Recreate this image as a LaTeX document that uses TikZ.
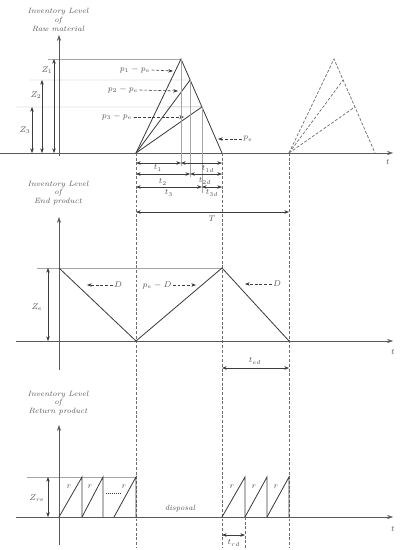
\documentclass[tikz,border=0pt]{standalone}
\usepackage{amsmath}
\usepackage{tikz}
\usetikzlibrary{arrows.meta, calc}
\definecolor{curveColor}{RGB}{60, 60, 60}
\definecolor{guideColor}{RGB}{165, 165, 165}
\definecolor{labelColor}{RGB}{85, 85, 85}
\tikzset{
    inv_axis/.style={
        -{Stealth[length=5pt, width=3.5pt]},
        draw=curveColor!85,
        line width=0.5pt
    },
    guide_line/.style={
        draw=guideColor,
        line width=0.35pt
    },
    stock_curve/.style={
        draw=curveColor,
        line width=0.7pt
    },
    cycle_mark/.style={
        draw=curveColor!75,
        dash pattern=on 2.5pt off 1.5pt,
        line width=0.5pt
    },
    dim_arrow/.style={
        {Stealth[length=4pt, width=3pt]}-{Stealth[length=4pt, width=3pt]},
        draw=curveColor,
        line width=0.45pt
    },
    rate_arrow/.style={
        -{Stealth[length=4pt, width=3pt]},
        draw=curveColor,
        dash pattern=on 2.5pt off 1.5pt,
        line width=0.5pt
    },
    axis_title/.style={
        align=center,
        text=labelColor,
        font=\fontsize{6.5}{7.6}\selectfont\itshape
    },
    math_label/.style={
        text=labelColor,
        font=\scriptsize,
        inner sep=1pt
    }
}

\begin{document}
\begin{tikzpicture}[x=0.03cm, y=-0.03cm]
    \useasboundingbox (0,0) rectangle (400,550);

    % ---- raw material ----
    \coordinate (rawYb) at (59,156);
    \coordinate (rawYt) at (59,35);
    \coordinate (rawXl) at (0,153);
    \coordinate (rawXr) at (393,153);
    \coordinate (bot) at (0,548);

    \coordinate (c1) at (136,153);
    \coordinate (p1) at (181,59);
    \coordinate (e1) at (222,153);
    \coordinate (p2) at ($(p1)!0.223!(e1)$);
    \coordinate (p3) at ($(p1)!0.51!(e1)$);
    \coordinate (c2) at (289,153);
    \coordinate (q1) at (334,59);
    \coordinate (f1) at (375,153);
    \coordinate (q2) at ($(q1)!0.223!(f1)$);
    \coordinate (q3) at ($(q1)!0.51!(f1)$);

    \coordinate (z1) at (48,59);
    \coordinate (z2) at (30,80);
    \coordinate (z3) at (16,107);
    \draw[guide_line] (z1) -- (p1);
    \draw[guide_line] (z2) -- (p2);
    \draw[guide_line] (z3) -- (p3);

    \draw[inv_axis] (rawYb) -- (rawYt);
    \draw[inv_axis] (rawXl) -- (rawXr);
    \node[axis_title] (rawTitle) at (58,20) {Inventory Level\\of\\Raw material};
    \node[math_label] (rawT) at (388,162) {$t$};

    % level arrows
    \coordinate (za) at (54,59);
    \coordinate (zb) at (42,80);
    \coordinate (zc) at (32,107);
    \draw[dim_arrow] (za) -- (za |- rawXl);
    \draw[dim_arrow] (zb) -- (zb |- rawXl);
    \draw[dim_arrow] (zc) -- (zc |- rawXl);
    \node[math_label] (lz1) at (47,70) {$Z_1$};
    \node[math_label] (lz2) at (36,95) {$Z_2$};
    \node[math_label] (lz3) at (25,130) {$Z_3$};

    % first cycle
    \draw[stock_curve] (c1) -- (p1) -- (e1);
    \draw[stock_curve] (c1) -- (p2);
    \draw[stock_curve] (c1) -- (p3);
    % next cycle
    \draw[cycle_mark, line width=0.6pt] (c2) -- (q1) -- (f1);
    \draw[cycle_mark, line width=0.6pt] (c2) -- (q2);
    \draw[cycle_mark, line width=0.6pt] (c2) -- (q3);

    % production rates
    \node[math_label] (lr1) at (135,70) {$p_1-p_e$};
    \node[math_label] (lr2) at (123,90) {$p_2-p_e$};
    \node[math_label] (lr3) at (117,117) {$p_3-p_e$};
    \node[math_label] (lre) at (248,139) {$p_e$};
    \coordinate (a1) at (173,71);
    \coordinate (a2) at (178,91);
    \coordinate (a3) at (184,117);
    \coordinate (a4) at (218,139);
    \draw[rate_arrow] (lr1.east) -- (a1);
    \draw[rate_arrow] (lr2.east) -- (a2);
    \draw[rate_arrow] (lr3.east) -- (a3);
    \draw[rate_arrow] (lre.west) -- (a4);

    % time spans
    \coordinate (r1) at (0,163);
    \coordinate (r2) at (0,174);
    \coordinate (r3) at (0,187);
    \coordinate (rT) at (0,212);
    \draw[guide_line] (p1) -- ($(p1 |- r1)+(0,3)$);
    \draw[guide_line] (p2) -- ($(p2 |- r2)+(0,3)$);
    \draw[guide_line] (p3) -- ($(p3 |- r3)+(0,6)$);
    \draw[dim_arrow] (c1 |- r1) -- (p1 |- r1);
    \draw[dim_arrow] (p1 |- r1) -- (e1 |- r1);
    \draw[dim_arrow] (c1 |- r2) -- (p2 |- r2);
    \draw[dim_arrow] (p2 |- r2) -- (e1 |- r2);
    \draw[dim_arrow] (c1 |- r3) -- (p3 |- r3);
    \draw[dim_arrow] (p3 |- r3) -- (e1 |- r3);
    \draw[dim_arrow] (c1 |- rT) -- (c2 |- rT);
    \node[math_label] (lt1) at (158,168) {$t_1$};
    \node[math_label] (lt1d) at (208,169) {$t_{1d}$};
    \node[math_label] (lt2) at (163,182) {$t_2$};
    \node[math_label] (lt2d) at (205,181) {$t_{2d}$};
    \node[math_label] (lt3) at (169,193) {$t_3$};
    \node[math_label] (lt3d) at (212,193) {$t_{3d}$};
    \node[math_label] (lT) at (212,219) {$T$};

    % cycle marks
    \draw[cycle_mark] (c1) -- (c1 |- bot);
    \draw[cycle_mark] (e1) -- (e1 |- bot);
    \draw[cycle_mark] (c2) -- (c2 |- bot);

    % ---- end product ----
    \coordinate (endYb) at (59,370);
    \coordinate (endYt) at (59,217);
    \coordinate (endXl) at (16,341);
    \coordinate (endXr) at (393,341);
    \coordinate (ze) at (37,268);
    \coordinate (ze0) at (59,268);
    \coordinate (eTop) at (e1 |- ze);

    \draw[guide_line] (ze) -- (eTop);
    \draw[inv_axis] (endYb) -- (endYt);
    \draw[inv_axis] (endXl) -- (endXr);
    \node[axis_title] (endTitle) at (58,193) {Inventory Level\\of\\End product};
    \node[math_label] (endT) at (393,352) {$t$};

    \coordinate (zd) at (48,268);
    \draw[dim_arrow] (zd) -- (zd |- endXl);
    \node[math_label] (lze) at (37,307) {$Z_e$};

    \draw[stock_curve] (ze0) -- (c1 |- endXl) -- (eTop) -- (c2 |- endXl);

    \node[math_label] (ld1) at (118,285) {$D$};
    \node[math_label] (lpd) at (157,285) {$p_e-D$};
    \node[math_label] (ld2) at (277,284) {$D$};
    \coordinate (b1) at (87,285);
    \coordinate (b2) at (196,285);
    \coordinate (b3) at (245,284);
    \draw[rate_arrow] (ld1.west) -- (b1);
    \draw[rate_arrow] (lpd.east) -- (b2);
    \draw[rate_arrow] (ld2.west) -- (b3);

    \coordinate (rEd) at (0,368);
    \draw[dim_arrow] (e1 |- rEd) -- (c2 |- rEd);
    \node[math_label] (lted) at (255,361) {$t_{ed}$};

    % ---- return product ----
    \coordinate (retYb) at (59,545);
    \coordinate (retYt) at (59,425);
    \coordinate (retXl) at (16,517);
    \coordinate (retXr) at (393,517);
    \coordinate (zr) at (27,477);

    \draw[guide_line] (zr) -- (c1 |- zr);
    \draw[inv_axis] (retYb) -- (retYt);
    \draw[inv_axis] (retXl) -- (retXr);
    \node[axis_title] (retTitle) at (58,403) {Inventory Level\\of\\Return product};
    \node[math_label] (retT) at (393,529) {$t$};

    \coordinate (zs) at (48,477);
    \draw[dim_arrow] (zs) -- (zs |- retXl);
    \node[math_label] (lzr) at (37,498) {$Z_{re}$};

    % returns collected
    \foreach \xa/\xb in {59/82, 82/103, 114/136, 222/245, 245/267, 267/289}
        \draw[stock_curve] (\xa,517) -- (\xb,477) -- (\xb,517);
    \foreach \xr in {69, 90, 124, 232, 254, 276}
        \node[math_label] at (\xr,487) {$r$};
    \draw[draw=curveColor, dash pattern=on 1pt off 0.7pt, line width=0.5pt] (106,493) -- (120,493);

    \node[axis_title] (disp) at (180,509) {disposal};

    \coordinate (rd) at (245,517);
    \coordinate (rRd) at (0,535);
    \draw[cycle_mark] (rd) -- (rd |- bot);
    \draw[dim_arrow] (e1 |- rRd) -- (rd |- rRd);
    \node[math_label] (ltrd) at (234,543) {$t_{rd}$};
\end{tikzpicture}
\end{document}
